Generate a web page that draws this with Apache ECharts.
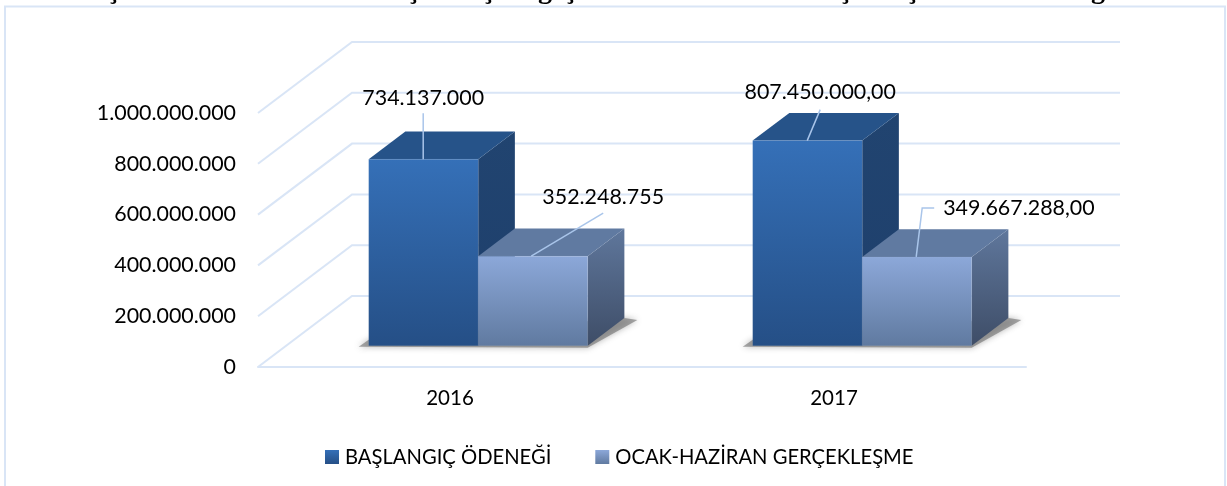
<!DOCTYPE html>
<html>
<head>
<meta charset="utf-8">
<style>html,body{margin:0;padding:0;background:#fff}#c{width:1227px;height:486px}</style>
<script src="https://cdn.jsdelivr.net/npm/echarts@6/dist/echarts.min.js"></script>
</head>
<body>
<div id="c"></div>
<script>
const categories = ['2016', '2017'];
const budgetName = 'BAŞLANGIÇ ÖDENEĞİ';
const actualName = 'OCAK-HAZİRAN GERÇEKLEŞME';
const budgetValues = [734137000, 807450000];
const actualValues = [352248755, 349667288];
const budgetLabels = ['734.137.000', '807.450.000,00'];
const actualLabels = ['352.248.755', '349.667.288,00'];
const yTicks = [0, 200000000, 400000000, 600000000, 800000000, 1000000000];

// presentation only
const DEPTH = [94, -71];
const BAR_FRONT = 0.30, BAR_BACK = 0.69, BAR_W = 0.2852;
const GRID = '#D9E5F6', LEADER = '#A9C5EA', FONT = 'Lato';
const budgetLeaders = [[[-55, 0], [-55, -46]], [[-55, 0], [-42, -31]]];
const actualLeaders = [[[53, 0], [125, -43]], [[54, 0], [60, -49], [72, -49]]];
const budgetText = [[-55, -61, 'center'], [-42, -48, 'center']];
const actualText = [[125, -59, 'center'], [81, -49, 'left']];
const titleMarks = [['ç',113],['ç',413],['ç',488],['g',545],['ç',570],['ç',845],['ç',912],['g',1098]];

const vgrad = (a, b) => new echarts.graphic.LinearGradient(0, 0, 0, 1, [{offset: 0, color: a}, {offset: 1, color: b}]);
const budgetStyle = {front: vgrad('#3570B8', '#254F86'), top: '#265389', side: vgrad('#214470', '#1E3F6C')};
const actualStyle = {front: vgrad('#8CA8D9', '#607AA0'), top: '#607AA1', side: vgrad('#5F779C', '#3E4D67')};

function box(side, style, labels, leaders, texts) {
  return function (params, api) {
    const i = params.dataIndex;
    const top = api.coord([api.value(0), api.value(1)]);
    const base = api.coord([api.value(0), 0]);
    const w = api.size([1, 0])[0] * BAR_W;
    const fx = BAR_FRONT * DEPTH[0], fy = BAR_FRONT * DEPTH[1];
    const bx = BAR_BACK * DEPTH[0], by = BAR_BACK * DEPTH[1];
    const x0 = top[0] + fx + (side < 0 ? -w : 0), x1 = x0 + w;
    const yt = top[1] + fy, yb = base[1] + fy;
    const ddx = bx - fx, ddy = by - fy;
    const poly = (pts, fill, extra) => ({type: 'polygon', shape: {points: pts}, style: Object.assign({fill: fill}, extra || {}), silent: true});
    const children = [];
    const edge = {stroke: 'rgba(255,255,255,0.12)', lineWidth: 0.5};
    if (side < 0) {
      // cast shadow lies under both boxes of the group
      const xr = x1 + w;
      children.push(poly([[x0 - 10, yb + 1], [xr, yb + 2], [xr + ddx + 13, yb + ddy + 2], [xr + ddx, yb + ddy], [x0, yb - 6]],
        'rgba(110,110,110,0.6)', {shadowBlur: 6, shadowColor: 'rgba(70,70,70,0.65)'}));
    }
    children.push(poly([[x1, yt], [x1 + ddx, yt + ddy], [x1 + ddx, yb + ddy], [x1, yb]], style.side));
    children.push(poly([[x0, yt], [x0 + ddx, yt + ddy], [x1 + ddx, yt + ddy], [x1, yt]], style.top));
    children.push(poly([[x0, yt], [x1, yt], [x1, yb], [x0, yb]], style.front, edge));
    const ax = side < 0 ? x1 : x0;
    const pts = leaders[i].map(p => [ax + p[0], yt + p[1]]);
    children.push({type: 'polyline', shape: {points: pts}, style: {stroke: LEADER, lineWidth: 1.5, fill: null}, silent: true});
    const t = texts[i];
    children.push({type: 'text', x: ax + t[0], y: yt + t[1], style: {text: labels[i], fill: '#000', font: '21.4px ' + FONT, textAlign: t[2], textVerticalAlign: 'middle'}, silent: true});
    return {type: 'group', children: children};
  };
}

function wall(params, api) {
  const p = api.coord([0, api.value(0)]);
  const left = params.coordSys.x, right = left + params.coordSys.width;
  const y = p[1];
  return {type: 'polyline', silent: true,
    shape: {points: [[left, y], [left + DEPTH[0], y + DEPTH[1]], [right + DEPTH[0], y + DEPTH[1]]]},
    style: {stroke: GRID, lineWidth: 2, fill: null}};
}

const chart = echarts.init(document.getElementById('c'), null, {renderer: 'canvas'});
chart.setOption({
  animation: false,
  backgroundColor: '#fff',
  grid: {left: 258, right: 201, top: 113, bottom: 119},
  legend: {
    left: 320, top: 442, itemWidth: 14, itemHeight: 14, itemGap: 44, icon: 'rect',
    data: [budgetName, actualName],
    textStyle: {color: '#000', fontFamily: FONT, fontSize: 20.2, padding: [0, 0, 0, 1]},
    itemStyle: {borderWidth: 0}
  },
  xAxis: {
    type: 'category', data: categories,
    axisLine: {show: true, lineStyle: {color: GRID, width: 2}},
    axisTick: {show: false},
    axisLabel: {color: '#000', fontFamily: FONT, fontSize: 20.5, margin: 21}
  },
  yAxis: {
    type: 'value', min: 0, max: 1000000000, interval: 200000000,
    splitLine: {show: false}, axisLine: {show: false}, axisTick: {show: false},
    axisLabel: {color: '#000', fontFamily: FONT, fontSize: 21.4, margin: 22, padding: [4, 0, 0, 0],
      formatter: v => String(v).replace(/\B(?=(\d{3})+$)/g, '.')}
  },
  graphic: [
    {type: 'polyline', silent: true, z: 0, shape: {points: [[5, 486], [5, 6.5], [1225, 6.5], [1225, 486]]}, style: {stroke: GRID, lineWidth: 2, fill: null}}
  ].concat(titleMarks.map(m => ({type: 'text', silent: true, x: m[1], y: -9, style: {text: m[0], fill: '#000', font: 'bold 28px "Liberation Serif"', textAlign: 'center', textVerticalAlign: 'middle'}}))),
  series: [
    {type: 'custom', coordinateSystem: 'cartesian2d', silent: true, z: 1, renderItem: wall, encode: {y: 0}, data: yTicks.map(v => [v]), clip: false},
    {name: budgetName, type: 'custom', coordinateSystem: 'cartesian2d', silent: true, z: 2, clip: false,
      itemStyle: {color: vgrad('#3570B8', '#254F86')}, encode: {x: 0, y: 1},
      renderItem: box(-1, budgetStyle, budgetLabels, budgetLeaders, budgetText),
      data: budgetValues.map((v, i) => [i, v])},
    {name: actualName, type: 'custom', coordinateSystem: 'cartesian2d', silent: true, z: 3, clip: false,
      itemStyle: {color: vgrad('#8CA8D9', '#607AA0')}, encode: {x: 0, y: 1},
      renderItem: box(1, actualStyle, actualLabels, actualLeaders, actualText),
      data: actualValues.map((v, i) => [i, v])}
  ]
});
</script>
</body>
</html>
